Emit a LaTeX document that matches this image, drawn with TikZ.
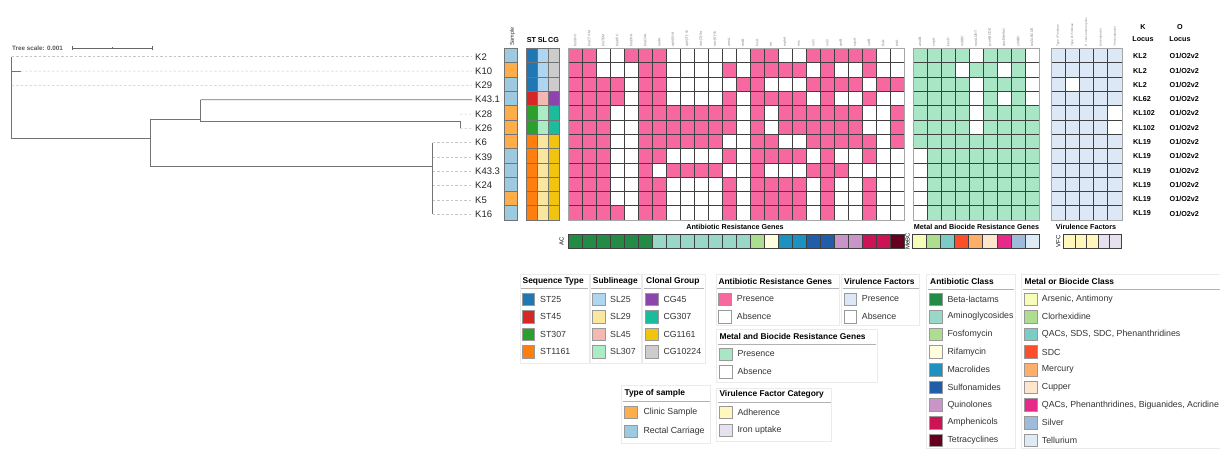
\documentclass[tikz,border=0pt]{standalone}
\usepackage{fontspec}
\setmainfont{Liberation Sans}
\definecolor{argpink}{HTML}{F768A1}
\definecolor{metgreen}{HTML}{A8E6C6}
\definecolor{vfblue}{HTML}{DCE8F5}
\definecolor{clinic}{HTML}{FDAE4B}
\definecolor{rectal}{HTML}{9ECAE1}
\definecolor{stA}{HTML}{1F77B4}
\definecolor{stB}{HTML}{D62728}
\definecolor{stC}{HTML}{2CA02C}
\definecolor{stD}{HTML}{FF7F0E}
\definecolor{slA}{HTML}{AED6F1}
\definecolor{slB}{HTML}{F9E79F}
\definecolor{slC}{HTML}{F5B7B1}
\definecolor{slD}{HTML}{ABEBC6}
\definecolor{cgA}{HTML}{8E44AD}
\definecolor{cgB}{HTML}{1ABC9C}
\definecolor{cgC}{HTML}{F1C40F}
\definecolor{cgD}{HTML}{CCCCCC}
\definecolor{acA}{HTML}{238B45}
\definecolor{acB}{HTML}{99D8C9}
\definecolor{acC}{HTML}{ADDD8E}
\definecolor{acD}{HTML}{FFFFE0}
\definecolor{acE}{HTML}{1D91C0}
\definecolor{acF}{HTML}{225EA8}
\definecolor{acG}{HTML}{C994C7}
\definecolor{acH}{HTML}{CE1256}
\definecolor{acI}{HTML}{67001F}
\definecolor{mcA}{HTML}{F7FCB9}
\definecolor{mcB}{HTML}{ADDD8E}
\definecolor{mcC}{HTML}{7BCCC4}
\definecolor{mcD}{HTML}{FC4E2A}
\definecolor{mcE}{HTML}{FDAE6B}
\definecolor{mcF}{HTML}{FEE6CE}
\definecolor{mcG}{HTML}{E7298A}
\definecolor{mcH}{HTML}{9EBCDA}
\definecolor{mcI}{HTML}{DEEBF7}
\definecolor{vfcA}{HTML}{FFF7BC}
\definecolor{vfcB}{HTML}{E7E1EF}
\begin{document}
\begin{tikzpicture}[x=1pt,y=-1pt,
  hcell/.style={draw=black!75, line width=0.65pt},
  swt/.style={draw=black!40, line width=0.5pt},
  legitem/.style={anchor=west, inner sep=0, font=\fontsize{8.8}{10}\selectfont, text=black!80},
  legtitle/.style={anchor=west, inner sep=0, font=\bfseries\fontsize{8.4}{10}\selectfont},
  panel/.style={draw=black!8, line width=0.6pt},
  uline/.style={draw=black!30, line width=0.9pt},
  treeln/.style={draw=black!55, line width=0.8pt},
  leafdash/.style={draw=black!22, line width=0.5pt, dash pattern=on 2.5pt off 2pt, shorten >=3pt},
  leaflab/.style={anchor=west, inner sep=0, font=\fontsize{9.5}{10}\selectfont, text=black!85},
  genelab/.style={anchor=west, rotate=90, inner sep=0, font=\fontsize{3.5}{4}\selectfont, text=black!50},
  locus/.style={anchor=west, inner sep=0, font=\bfseries\fontsize{7.2}{8}\selectfont},
  hdr/.style={inner sep=0, font=\bfseries\fontsize{7.2}{8}\selectfont},
  barlab/.style={rotate=90, inner sep=0, font=\fontsize{6}{7}\selectfont}]
\useasboundingbox[fill=white] (0,0) rectangle (1220,450);

% ---------------- tree ----------------
\node[anchor=west, inner sep=0, font=\bfseries\fontsize{6.3}{7}\selectfont, text=black!65] (tscale) at (12,48) {Tree scale: 0.001};
\coordinate (sbL) at (72.7,48); \coordinate (sbR) at (152.3,48); \coordinate (sbM) at (112.5,48);
\draw[draw=black!60, line width=0.6pt] (sbL) -- (sbR);
\draw[draw=black!60, line width=0.6pt] ([yshift=-2.2pt]sbL) -- ([yshift=2.2pt]sbL);
\draw[draw=black!60, line width=0.6pt] ([yshift=-2.2pt]sbR) -- ([yshift=2.2pt]sbR);
\draw[draw=black!60, line width=0.5pt] ([yshift=-1.2pt]sbM) -- ([yshift=1.2pt]sbM);

\foreach \lab [count=\i from 0] in {K2,K10,K29,K43.1,K28,K26,K6,K39,K43.3,K24,K5,K16}{
  \node[leaflab] (l\i) at (475,{56.7+14.33*\i}) {\lab};
}
\coordinate (rt) at (11.7,56.7);
\coordinate (rb) at (11.7,138.3);
\coordinate (r10) at (11.7,71.0);
\coordinate (k10) at (20.7,71.0);
\coordinate (r29) at (11.7,85.4);
\coordinate (aM) at (150.7,138.3);
\coordinate (aT) at (150.7,119.3);
\coordinate (aB) at (150.7,166.7);
\coordinate (bE) at (200.7,119.3);
\coordinate (bT) at (200.7,99.7);
\coordinate (bL) at (200.7,121.7);
\coordinate (dS) at (460,121.7);
\coordinate (dB) at (460,128.4);
\coordinate (d28) at (460,114.0);
\coordinate (cE) at (432.7,166.7);
\coordinate (cT) at (432.7,142.7);
\coordinate (cB) at (432.7,214.3);

\draw[treeln] (rt) -- (rb) -- (aM);
\draw[treeln] (r10) -- (k10);
\draw[treeln] (aT) -- (aB);
\draw[treeln] (aT) -- (bE);
\draw[treeln] (bT) -- (bL);
\draw[treeln, shorten >=3pt] (bT) -- (l3.west);
\draw[treeln] (bL) -- (dS) -- (dB);
\draw[treeln] (aB) -- (cE);
\draw[treeln] (cT) -- (cB);
\draw[leafdash] (rt) -- (l0.west);
\draw[leafdash] (k10) -- (l1.west);
\draw[leafdash] (r29) -- (l2.west);
\draw[leafdash] (d28) -- (l4.west);
\draw[leafdash] (dB) -- (l5.west);
\foreach \i in {6,...,11}{ \draw[leafdash] (l\i.west -| cT) -- (l\i.west); }

% ---------------- left annotation columns ----------------
\node[genelab, font=\fontsize{5.5}{6}\selectfont, text=black!80] (hsample) at (512.5,46) {Sample};
\node[hdr] (hst) at (531.5,40) {ST};
\node[hdr] (hsl) at (542.5,40) {SL};
\node[hdr] (hcg) at (553.5,40) {CG};
\foreach \cl [count=\r from 0] in {rectal,clinic,rectal,rectal,clinic,clinic,clinic,rectal,rectal,rectal,clinic,rectal}{
  \filldraw[hcell, draw=black!55, fill=\cl] (504,{48.5+14.3*\r}) rectangle ++(13,14.3);
}
\foreach \cl [count=\r from 0] in {stA,stA,stA,stB,stC,stC,stD,stD,stD,stD,stD,stD}{
  \filldraw[hcell, draw=black!55, fill=\cl] (526,{48.5+14.3*\r}) rectangle ++(11,14.3);
}
\foreach \cl [count=\r from 0] in {slA,slA,slA,slC,slD,slD,slB,slB,slB,slB,slB,slB}{
  \filldraw[hcell, draw=black!55, fill=\cl] (537,{48.5+14.3*\r}) rectangle ++(11,14.3);
}
\foreach \cl [count=\r from 0] in {cgD,cgD,cgD,cgA,cgB,cgB,cgC,cgC,cgC,cgC,cgC,cgC}{
  \filldraw[hcell, draw=black!55, fill=\cl] (548,{48.5+14.3*\r}) rectangle ++(11,14.3);
}

% ---------------- ARG heatmap ----------------
\foreach \g [count=\c from 0] in {blaSHV,blaCTX-M,blaTEM,blaKPC,blaDHA,blaOXA,aadA,aph(6)-Id,aph(3'')-Ib,aac(3)-IIa,aac(6')-Ib,armA,rmtB,fosA,arr,mphA,mrx,sul1,sul2,qnrB,oqxA,catB,floR,tetA}{
  \node[genelab] (ga\c) at ({575+14*\c},46.5) {\g};
}
\foreach \row [count=\r from 0] in {
{1,1,0,0,1,1,1,0,0,0,0,0,0,1,1,0,0,1,1,1,1,1,0,0},
{1,1,0,0,0,1,1,0,0,0,0,1,0,1,1,1,1,0,1,0,0,1,0,0},
{1,1,1,1,0,1,1,0,0,0,0,0,1,1,0,0,0,1,1,1,1,0,1,1},
{1,1,1,1,0,1,1,0,0,0,0,1,0,1,1,1,1,0,1,0,0,1,0,0},
{1,1,1,0,0,1,1,1,1,1,1,1,0,1,0,1,1,1,1,1,1,0,0,1},
{1,1,1,0,0,1,1,1,1,1,1,1,0,1,0,1,1,1,1,1,1,0,0,1},
{1,1,1,0,0,1,1,1,1,1,1,0,0,1,1,0,0,1,1,1,1,1,0,1},
{1,1,1,0,0,1,1,0,0,0,0,1,0,1,1,1,1,0,1,0,0,1,0,0},
{1,1,1,0,0,1,0,1,1,1,1,0,0,1,0,0,0,1,1,1,0,0,0,0},
{1,1,1,0,0,1,1,0,0,0,0,1,0,1,1,1,1,0,1,0,0,1,0,0},
{1,1,1,0,0,1,1,0,0,0,0,1,0,1,1,1,1,0,1,0,0,1,0,0},
{1,1,1,1,0,1,1,0,0,0,0,1,0,1,1,1,1,0,1,0,0,1,0,0}}{
  \foreach \v [count=\c from 0] in \row {
    \ifnum\v=1 \def\cc{argpink}\else\def\cc{white}\fi
    \filldraw[hcell, fill=\cc] ({568+14*\c},{48.5+14.3*\r}) rectangle ++(14,14.3);
  }
}
\draw[draw=black!35, line width=0.8pt] (568,48.5) rectangle (904,220.1);

% ---------------- metal heatmap ----------------
\foreach \g [count=\c from 0] in {arsAB,cepA,kexD,mdtBC,merADRT,pcoABCDE,qacEdelta1,silABC,terZABCDE}{
  \node[genelab] (gm\c) at ({920+14*\c},46.5) {\g};
}
\foreach \row [count=\r from 0] in {
{1,1,1,1,0,1,1,1,0},
{1,1,1,0,1,1,0,1,0},
{1,1,1,1,0,1,1,1,0},
{1,1,1,1,0,1,0,1,0},
{1,1,1,1,0,1,1,1,1},
{1,1,1,1,0,1,1,1,1},
{1,1,1,1,1,1,1,1,1},
{0,1,1,1,1,1,1,1,1},
{0,1,1,1,1,1,1,1,1},
{0,1,1,1,1,1,1,1,1},
{0,1,1,1,1,1,1,1,1},
{0,1,1,1,1,1,1,1,1}}{
  \foreach \v [count=\c from 0] in \row {
    \ifnum\v=1 \def\cc{metgreen}\else\def\cc{white}\fi
    \filldraw[hcell, fill=\cc] ({913+14*\c},{48.5+14.3*\r}) rectangle ++(14,14.3);
  }
}
\draw[draw=black!35, line width=0.8pt] (913,48.5) rectangle (1039,220.1);

% ---------------- virulence heatmap ----------------
\foreach \g [count=\c from 0] in {Type I Fimbriae,Type III Fimbriae,E. coli common pilus,Enterobactin,Yersiniabactin}{
  \node[genelab, font=\itshape\fontsize{3.1}{4}\selectfont] (gv\c) at ({1058+14.2*\c},46.5) {\g};
}
\foreach \row [count=\r from 0] in {
{1,1,1,1,1},{1,1,1,1,1},{1,0,1,1,1},{1,1,1,1,1},{1,1,1,1,0},{1,1,1,1,0},
{1,1,1,1,1},{1,1,1,1,1},{1,1,1,1,1},{1,1,1,1,1},{1,1,1,1,1},{1,1,1,1,1}}{
  \foreach \v [count=\c from 0] in \row {
    \ifnum\v=1 \def\cc{vfblue}\else\def\cc{white}\fi
    \filldraw[hcell, fill=\cc] ({1051+14.2*\c},{48.5+14.3*\r}) rectangle ++(14.2,14.3);
  }
}
\draw[draw=black!35, line width=0.8pt] (1051,48.5) rectangle (1122,220.1);

% ---------------- K / O locus ----------------
\node[hdr] (khead) at (1143,27.5) {K};
\node[hdr] (kloc) at (1143,39.5) {Locus};
\node[hdr] (ohead) at (1180,27.5) {O};
\node[hdr] (oloc) at (1180,39.5) {Locus};
\foreach \k [count=\i from 0] in {KL2,KL2,KL2,KL62,KL102,KL102,KL19,KL19,KL19,KL19,KL19,KL19}{
  \node[locus] (kl\i) at (1133,{56.2+14.3*\i}) {\k};
  \node[locus] (ol\i) at (1169.5,{56.2+14.3*\i}) {O1/O2v2};
}

% ---------------- section titles and class bars ----------------
\node[hdr] (targ) at (735,226.7) {Antibiotic Resistance Genes};
\node[hdr] (tmet) at (976.5,226.7) {Metal and Biocide Resistance Genes};
\node[hdr] (tvir) at (1086,226.7) {Virulence Factors};

\node[barlab] (bac) at (561.5,241) {AC};
\foreach \cl [count=\c from 0] in {acA,acA,acA,acA,acA,acA,acB,acB,acB,acB,acB,acB,acB,acC,acD,acE,acE,acF,acF,acG,acG,acH,acH,acI}{
  \filldraw[hcell, fill=\cl] ({568+14*\c},234) rectangle ++(14,14.3);
}
\node[barlab] (bme) at (907.5,241) {MeBC};
\foreach \cl [count=\c from 0] in {mcA,mcB,mcC,mcD,mcE,mcF,mcG,mcH,mcI}{
  \filldraw[hcell, fill=\cl] ({912.5+14.06*\c},234) rectangle ++(14.06,14.3);
}
\node[barlab] (bvf) at (1058.3,241) {VFC};
\foreach \cl [count=\c from 0] in {vfcA,vfcA,vfcA,vfcB,vfcB}{
  \filldraw[hcell, fill=\cl] ({1063.3+11.6*\c},234) rectangle ++(11.6,14.3);
}

% ---------------- legends ----------------
\draw[panel] (520,274) rectangle (589,363);
\draw[panel] (590,274) rectangle (641.5,363);
\draw[panel] (642.5,274) rectangle (705,363);
\node[legtitle] (lt1) at (522.5,281.3) {Sequence Type};
\node[legtitle] (lt2) at (592.7,281.3) {Sublineage};
\node[legtitle] (lt3) at (646,281.3) {Clonal Group};
\draw[uline] (521,288.7) -- (588,288.7);
\draw[uline] (591,288.7) -- (640.5,288.7);
\draw[uline] (643.5,288.7) -- (704,288.7);
\foreach \cl/\tx [count=\k from 0] in {stA/ST25,stB/ST45,stC/ST307,stD/ST1161}{
  \filldraw[swt, fill=\cl] (522,{299+17.6*\k-6.25}) rectangle ++(12.5,12.5);
  \node[legitem] (ist\k) at (540,{299+17.6*\k}) {\tx};
}
\foreach \cl/\tx [count=\k from 0] in {slA/SL25,slB/SL29,slC/SL45,slD/SL307}{
  \filldraw[swt, fill=\cl] (592.3,{299+17.6*\k-6.25}) rectangle ++(12.5,12.5);
  \node[legitem] (isl\k) at (610,{299+17.6*\k}) {\tx};
}
\foreach \cl/\tx [count=\k from 0] in {cgA/CG45,cgB/CG307,cgC/CG1161,cgD/CG10224}{
  \filldraw[swt, fill=\cl] (645.7,{299+17.6*\k-6.25}) rectangle ++(12.5,12.5);
  \node[legitem] (icg\k) at (663.3,{299+17.6*\k}) {\tx};
}

\draw[panel] (716,274) rectangle (839.5,325);
\draw[panel] (841.5,274) rectangle (919.5,325);
\node[legtitle] (lt4) at (718.3,281.3) {Antibiotic Resistance Genes};
\node[legtitle] (lt5) at (844,281.3) {Virulence Factors};
\draw[uline] (717,288.7) -- (838.5,288.7);
\draw[uline] (842.5,288.7) -- (918.5,288.7);
\foreach \cl/\tx [count=\k from 0] in {argpink/Presence,white/Absence}{
  \filldraw[swt, fill=\cl] (718.3,{299+17.6*\k-6.25}) rectangle ++(12.5,12.5);
  \node[legitem] (iarg\k) at (736.7,{299+17.6*\k}) {\tx};
}
\foreach \cl/\tx [count=\k from 0] in {vfblue/Presence,white/Absence}{
  \filldraw[swt, fill=\cl] (844,{299+17.6*\k-6.25}) rectangle ++(12.5,12.5);
  \node[legitem] (ivf\k) at (861.7,{299+17.6*\k}) {\tx};
}

\draw[panel] (716.5,329.7) rectangle (877,382.3);
\node[legtitle] (lt6) at (719.3,336.3) {Metal and Biocide Resistance Genes};
\draw[uline] (717.5,344) -- (876,344);
\foreach \cl/\tx [count=\k from 0] in {metgreen/Presence,white/Absence}{
  \filldraw[swt, fill=\cl] (719.3,{354+17.7*\k-6.25}) rectangle ++(12.5,12.5);
  \node[legitem] (imet\k) at (737.3,{354+17.7*\k}) {\tx};
}

\draw[panel] (621.7,385.3) rectangle (710.7,443);
\node[legtitle] (lt7) at (624.3,393) {Type of sample};
\draw[uline] (622.7,401.3) -- (709.7,401.3);
\foreach \cl/\tx [count=\k from 0] in {clinic/Clinic Sample,rectal/Rectal Carriage}{
  \filldraw[swt, fill=\cl] (624.3,{412.3+19*\k-6.25}) rectangle ++(12.5,12.5);
  \node[legitem] (isam\k) at (643.3,{412.3+19*\k}) {\tx};
}

\draw[panel] (716.7,388) rectangle (831.7,441);
\node[legtitle] (lt8) at (719.3,394.7) {Virulence Factor Category};
\draw[uline] (717.7,402.3) -- (830.7,402.3);
\foreach \cl/\tx [count=\k from 0] in {vfcA/Adherence,vfcB/Iron uptake}{
  \filldraw[swt, fill=\cl] (719.3,{412.3+18*\k-6.25}) rectangle ++(12.5,12.5);
  \node[legitem] (ivfc\k) at (737.3,{412.3+18*\k}) {\tx};
}

\draw[panel] (926.7,274) rectangle (1015,448);
\node[legtitle] (lt9) at (930,281.3) {Antibiotic Class};
\draw[uline] (927.7,289.7) -- (1014,289.7);
\foreach \cl/\tx [count=\k from 0] in {acA/Beta-lactams,acB/Aminoglycosides,acC/Fosfomycin,acD/Rifamycin,acE/Macrolides,acF/Sulfonamides,acG/Quinolones,acH/Amphenicols,acI/Tetracyclines}{
  \filldraw[swt, fill=\cl] (929.3,{299+17.66*\k-6.25}) rectangle ++(12.5,12.5);
  \node[legitem] (iac\k) at (947.3,{299+17.66*\k}) {\tx};
}

\draw[panel] (1021.7,274) rectangle (1221,448);
\node[legtitle] (lt10) at (1024.3,281.3) {Metal or Biocide Class};
\draw[uline] (1022.7,289.7) -- (1220,289.7);
\foreach \cl/\tx [count=\k from 0] in {{mcA/Arsenic, Antimony},mcB/Clorhexidine,{mcC/QACs, SDS, SDC, Phenanthridines},mcD/SDC,mcE/Mercury,mcF/Cupper,{mcG/QACs, Phenanthridines, Biguanides, Acridine},mcH/Silver,mcI/Tellurium}{
  \filldraw[swt, fill=\cl] (1024.3,{299+17.66*\k-6.25}) rectangle ++(12.5,12.5);
  \node[legitem] (imc\k) at (1041.7,{299+17.66*\k}) {\tx};
}
\end{tikzpicture}
\end{document}
